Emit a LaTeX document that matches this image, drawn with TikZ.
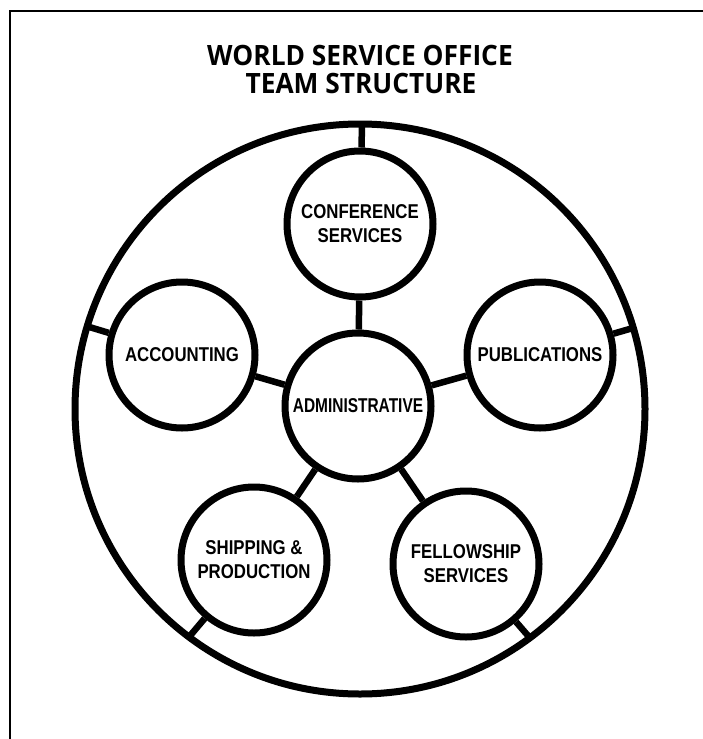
\documentclass[tikz,border=0pt]{standalone}
\usepackage{fontspec}
\setmainfont{Liberation Sans}
\newfontfamily\titlefont{Open Sans}[FakeStretch=0.94]
\newfontfamily\labfont{Liberation Sans}[FakeStretch=0.84]
\usetikzlibrary{calc}
\begin{document}
\begin{tikzpicture}[x=1pt,y=-1pt]
\tikzset{
  unit/.style={circle,draw,line width=7pt,minimum size=146pt,inner sep=0pt,fill=white,
    font=\labfont\bfseries\fontsize{20}{24}\selectfont,align=center},
  ring/.style={line width=7pt},
  spoke/.style={line width=6.5pt},
  frame/.style={line width=2pt},
  ttl/.style={font=\titlefont\bfseries\fontsize{28}{28}\selectfont,anchor=base,inner sep=0pt}
}
\useasboundingbox (0,0) rectangle (703,739);
\fill[white] (0,0) rectangle (703,739);
\draw[frame] (703,11) -- (10,11) -- (10,739);
\node[ttl] (t1) at (360,65) {WORLD SERVICE OFFICE};
\node[ttl] (t2) at (361,93) {TEAM STRUCTURE};
\draw[ring] (360,409) circle[radius=285pt];
\coordinate (oconf) at (362,124);
\coordinate (oacct) at (86,326);
\coordinate (opub) at (633,328);
\coordinate (oship) at (189,637);
\coordinate (ofell) at (530,638);
\node[unit] (admin) at (358,406) {\scalebox{0.92}[1]{ADMINISTRATIVE}};
\node[unit] (conf) at (360,224) {CONFERENCE\\SERVICES};
\node[unit] (acct) at (182,355) {ACCOUNTING};
\node[unit] (pub) at (540,355) {PUBLICATIONS};
\node[unit] (ship) at (254,560) {SHIPPING \&\\PRODUCTION};
\node[unit] (fell) at (466,564) {FELLOWSHIP\\SERVICES};
\foreach \s in {conf,acct,pub,ship,fell}{
  \draw[spoke] (admin) -- (\s);
  \draw[spoke] (\s) -- (o\s);
}
\end{tikzpicture}
\end{document}
